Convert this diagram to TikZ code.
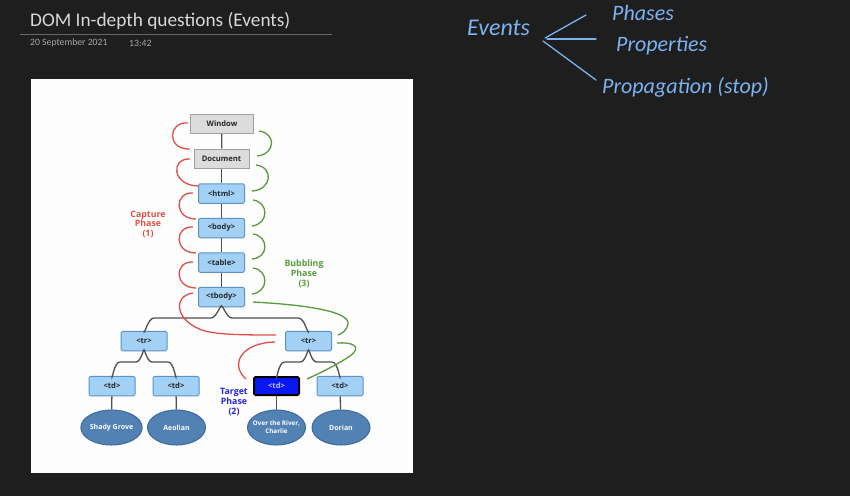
\documentclass[tikz,border=0pt]{standalone}
\usepackage{fontspec}
\setmainfont{Carlito}
\newfontfamily\dfont{Open Sans}
\newfontfamily\hfont{Carlito}
\usetikzlibrary{shapes.geometric}
\definecolor{bg}{HTML}{1E1E1E}
\definecolor{titlec}{HTML}{D8D8D8}
\definecolor{datec}{HTML}{A8A8A8}
\definecolor{handc}{HTML}{7CB2F0}
\definecolor{panelc}{HTML}{FDFDFD}
\definecolor{grayfill}{HTML}{DCDCDC}
\definecolor{grayline}{HTML}{A0A0A0}
\definecolor{bluefill}{HTML}{A3D1F5}
\definecolor{blueline}{HTML}{5E92C2}
\definecolor{tgtfill}{HTML}{0818F0}
\definecolor{ellfill}{HTML}{5281B4}
\definecolor{ellline}{HTML}{3C6A9A}
\definecolor{conn}{HTML}{505050}
\definecolor{capc}{HTML}{E0504A}
\definecolor{bubc}{HTML}{5A9A3C}
\definecolor{tgtc}{HTML}{2424E0}
\tikzset{
  graybox/.style={draw=grayline, fill=grayfill, line width=1pt, minimum height=19pt, inner sep=0pt, font=\dfont\bfseries\fontsize{7.6}{8}\selectfont, text=black!85},
  bluebox/.style={draw=blueline, fill=bluefill, line width=1pt, rounded corners=1.5pt, minimum width=46pt, minimum height=19.5pt, inner sep=0pt, font=\dfont\bfseries\fontsize{7.6}{8}\selectfont, text=black!85},
  tgtbox/.style={draw=black, fill=tgtfill, line width=2pt, rounded corners=1.5pt, minimum width=45pt, minimum height=18pt, inner sep=0pt, font=\dfont\bfseries\fontsize{7.6}{8}\selectfont, text=blue!25},
  leaf/.style={ellipse, draw=ellline, fill=ellfill, line width=1pt, minimum width=58pt, minimum height=35pt, inner sep=0pt, align=center, font=\dfont\bfseries\fontsize{7}{8.5}\selectfont, text=white},
  leaftext/.style={align=center, inner sep=0pt, font=\dfont\bfseries\fontsize{6.3}{8.2}\selectfont, text=white},
  edge/.style={draw=conn, line width=1.3pt},
  capline/.style={draw=capc, line width=1.3pt},
  bubline/.style={draw=bubc, line width=1.3pt},
  phase/.style={align=center, font=\dfont\bfseries\fontsize{8.8}{9.8}\selectfont},
  hand/.style={text=handc, font=\hfont\itshape\fontsize{22}{24}\selectfont, anchor=west, inner sep=0pt},
  handline/.style={draw=handc, line width=1.3pt, line cap=round}
}
\begin{document}
\begin{tikzpicture}[x=1pt,y=-1pt]
\useasboundingbox (0,0) rectangle (850,496);
\fill[bg] (0,0) rectangle (850,496);
% header
\node[anchor=west, inner sep=0pt, text=titlec, font=\fontsize{19.3}{22}\selectfont] (title) at (30,21) {DOM In-depth questions (Events)};
\draw[draw=black!60, line width=0.8pt] (20,34) coordinate (tl1) -- (332,34) coordinate (tl2);
\node[anchor=west, inner sep=0pt, text=datec, font=\fontsize{9.7}{11}\selectfont] (date) at (30,43) {20 September 2021};
\node[anchor=west, inner sep=0pt, text=datec, font=\fontsize{9.7}{11}\selectfont] (time) at (129,43) {13:42};
% handwriting
\node[hand, font=\hfont\itshape\fontsize{24}{26}\selectfont] (events) at (467,28) {Events};
\node[hand] (phases) at (612,13) {Phases};
\node[hand] (props) at (616,46) {Properties};
\node[hand] (propag) at (602,87) {Propagation (stop)};
\coordinate (v1) at (545,38);
\coordinate (v2) at (547,39);
\coordinate (v3) at (543,41);
\draw[handline] (586,15) -- (v1);
\draw[handline] (v2) -- (596,39);
\draw[handline] (v3) -- (596,80);
% panel
\fill[panelc] (31,79) rectangle (413,473);
% nodes
\node[graybox, minimum width=63pt] (win) at (222,124) {Window};
\node[graybox, minimum width=55pt] (doc) at (221.5,158.5) {Document};
\node[bluebox] (html) at (221.5,193.5) {<html>};
\node[bluebox] (body) at (221.5,228) {<body>};
\node[bluebox] (table) at (221.5,262.5) {<table>};
\node[bluebox] (tbody) at (221.5,297) {<tbody>};
\node[bluebox] (trL) at (144,341) {<tr>};
\node[bluebox] (trR) at (308.5,341) {<tr>};
\node[bluebox] (td1) at (112,386) {<td>};
\node[bluebox] (td2) at (176,386) {<td>};
\node[tgtbox] (td3) at (276.5,386) {<td>};
\node[bluebox] (td4) at (340,386) {<td>};
\node[leaf] (e1) at (111.5,427.5) {Shady Grove};
\node[leaf] (e2) at (176.5,427.5) {Aeolian};
\node[leaf] (e3) at (276.5,427.5) {};
\node[leaftext] (e3t) at (e3.center) {Over the River,\\Charlie};
\node[leaf] (e4) at (341,427.5) {Dorian};
% vertical edges
\draw[edge] (win) -- (doc);
\draw[edge] (doc) -- (html);
\draw[edge] (html) -- (body);
\draw[edge] (body) -- (table);
\draw[edge] (table) -- (tbody);
\draw[edge] (td1) -- (e1);
\draw[edge] (td2) -- (e2);
\draw[edge] (td3) -- (e3);
\draw[edge] (td4) -- (e4);
% branches
\draw[edge] (tbody.south) to[out=90,in=0] (211,318) -- (154,318) to[out=180,in=-90] (trL.north);
\draw[edge] (tbody.south) to[out=90,in=180] (232,318) -- (298.5,318) to[out=0,in=-90] (trR.north);
\draw[edge] (trL.south) to[out=90,in=0] (136,362) -- (120,362) to[out=180,in=-90] (td1.north);
\draw[edge] (trL.south) to[out=90,in=180] (152,362) -- (168,362) to[out=0,in=-90] (td2.north);
\draw[edge] (trR.south) to[out=90,in=0] (300.5,362) -- (284.5,362) to[out=180,in=-90] (td3.north);
\draw[edge] (trR.south) to[out=90,in=180] (316.5,362) -- (332,362) to[out=0,in=-90] (td4.north);
% capture arcs
\draw[capline] (188,123) .. controls (168,121) and (166,150) .. (190,149);
\draw[capline] (190,159) .. controls (170,158) and (172,186) .. (199,186);
\draw[capline] (193,193) .. controls (174,192) and (174,219) .. (196,219);
\draw[capline] (193,227) .. controls (174,226) and (174,253) .. (196,253);
\draw[capline] (193,262) .. controls (174,261) and (174,288) .. (196,288);
\draw[capline] (193,293) .. controls (172,296) and (175,322) .. (205,331) .. controls (220,335) and (250,335) .. (276,335);
\draw[capline] (275,342) .. controls (240,343) and (230,365) .. (246,379);
% bubbling arcs
\draw[bubline] (259,131) .. controls (276,133) and (276,154) .. (257,156);
\draw[bubline] (256,165) .. controls (274,167) and (272,190) .. (252,191);
\draw[bubline] (253,200) .. controls (269,202) and (269,224) .. (252,226);
\draw[bubline] (253,234) .. controls (269,236) and (269,258) .. (252,259);
\draw[bubline] (253,268) .. controls (269,270) and (269,292) .. (252,294);
\draw[bubline] (253,302) .. controls (310,305) and (350,312) .. (348,324) .. controls (347,330) and (343,333) .. (338,335);
\draw[bubline] (337,343) .. controls (352,342) and (363,346) .. (350,356) .. controls (335,366) and (318,374) .. (307,379);
% phase labels
\node[phase, text=capc] (cap) at (148,224.5) {Capture\\Phase\\(1)};
\node[phase, text=bubc] (bub) at (304,274) {Bubbling\\Phase\\(3)};
\node[phase, text=tgtc] (tgt) at (234,402) {Target\\Phase\\(2)};
\end{tikzpicture}
\end{document}
